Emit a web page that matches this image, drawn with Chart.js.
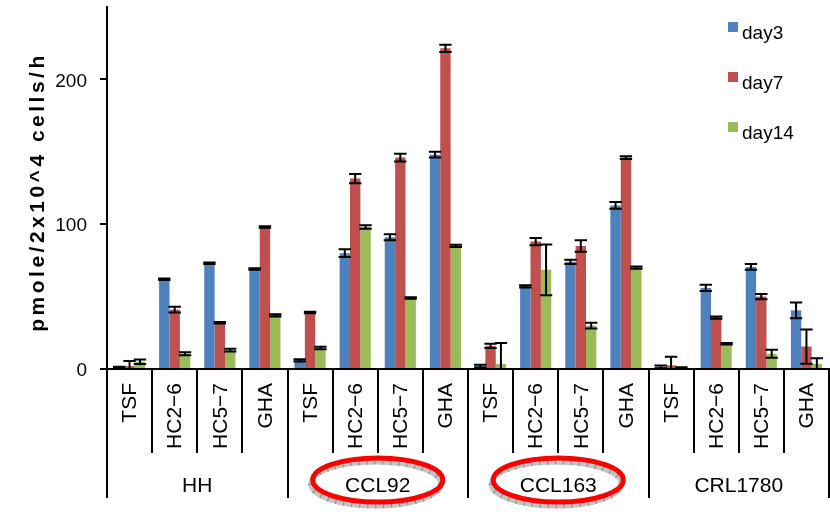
<!DOCTYPE html>
<html>
<head>
<meta charset="utf-8">
<script src="https://cdn.jsdelivr.net/npm/chart.js@4"></script>
<style>
  html, body { margin: 0; padding: 0; background: #fff; }
  #chart { display: block; }
</style>
</head>
<body>
<canvas id="chart" width="830" height="515"></canvas>
<script>
// cell lines and treatments (x axis, two rows)
const groups = ["HH", "CCL92", "CCL163", "CRL1780"];
const treatments = ["TSF", "HC2\u22126", "HC5\u22127", "GHA"];
const circledGroups = ["CCL92", "CCL163"];

// pmole/2x10^4 cells/h
const day3  = [1, 62, 73, 69,   6, 80, 91, 148,   2, 57, 74, 113,   1.5, 56, 70.5, 40.5];
const err3  = [0.5, 0.5, 0.5, 0.5,   0.8, 2.7, 2, 2,   1, 0.8, 1.5, 2.3,   1, 2.2, 2, 5.5];
const day7  = [2, 41, 32, 98,   39, 131.5, 146, 221.5,   16, 88, 85, 146,   2.5, 35.5, 50, 15.5];
const err7  = [3.5, 2, 0.5, 0.5,   0.5, 3.2, 2.7, 2.5,   1.5, 2.5, 4, 1,   6, 0.8, 1.8, 11.8];
const day14 = [5, 10.5, 13, 37,   14.5, 98, 49, 85,   3.5, 68.5, 30, 70,   0.7, 17.5, 10.5, 3.5];
const err14 = [1.5, 1, 1, 0.8,   0.8, 1.2, 0.5, 0.8,   14.5, 17.5, 2, 0.8,   0.5, 0.5, 2.8, 4];

const yTicks = [0, 100, 200];
const yMax = 250;
const yTitle = "pmole/2x10^4 cells/h";

const labels = [];
groups.forEach(() => treatments.forEach(t => labels.push(t)));

const FONT = "'Liberation Sans', Arial, sans-serif";

// error bars drawn from the dataset values through the y scale
const errorBars = {
    id: "errorBars",
    afterDatasetsDraw(chart) {
        const ctx = chart.ctx;
        const y = chart.scales.y;
        const area = chart.chartArea;
        ctx.save();
        ctx.beginPath();
        ctx.rect(area.left, area.top - 5, area.right - area.left, area.bottom - area.top + 5);
        ctx.clip();
        ctx.strokeStyle = "#000";
        ctx.lineWidth = 2;
        chart.data.datasets.forEach((ds, i) => {
            const meta = chart.getDatasetMeta(i);
            meta.data.forEach((bar, j) => {
                const v = ds.data[j], e = ds.errors[j];
                const x = bar.x;
                const hw = bar.width / 2 + 1;
                const top = y.getPixelForValue(v + e);
                const bot = y.getPixelForValue(v - e);
                ctx.beginPath();
                ctx.moveTo(x, top); ctx.lineTo(x, bot);
                ctx.moveTo(x - hw, top); ctx.lineTo(x + hw, top);
                ctx.moveTo(x - hw, bot); ctx.lineTo(x + hw, bot);
                ctx.stroke();
            });
        });
        ctx.restore();
    }
};

// two-row category axis, ellipses, legend and y title
const decorations = {
    id: "decorations",
    afterDraw(chart) {
        const ctx = chart.ctx;
        const x = chart.scales.x;
        const area = chart.chartArea;
        const n = labels.length;
        const half = (x.getPixelForValue(1) - x.getPixelForValue(0)) / 2;
        const edge = i => (i < n ? x.getPixelForValue(i) - half : x.getPixelForValue(n - 1) + half);

        ctx.save();
        ctx.strokeStyle = "#000";
        ctx.lineWidth = 2;
        for (let i = 0; i <= n; i++) {
            const px = Math.round(edge(i));
            ctx.beginPath();
            ctx.moveTo(px, area.bottom);
            ctx.lineTo(px, i % treatments.length === 0 ? 498 : 453);
            ctx.stroke();
        }

        // treatment labels, rotated
        ctx.fillStyle = "#000";
        ctx.font = "21px " + FONT;
        ctx.textAlign = "right";
        ctx.textBaseline = "middle";
        labels.forEach((lab, i) => {
            ctx.save();
            ctx.translate(x.getPixelForValue(i) + 1, 383);
            ctx.rotate(-Math.PI / 2);
            ctx.fillText(lab, 0, 0);
            ctx.restore();
        });

        // cell line labels, some circled
        groups.forEach((g, gi) => {
            const a = gi * treatments.length;
            const cx = (x.getPixelForValue(a + 1) + x.getPixelForValue(a + 2)) / 2;
            if (circledGroups.includes(g)) {
                const rx = 65, ry = 22, cy = 480;
                ctx.save();
                ctx.lineWidth = 5;
                ctx.strokeStyle = "#c4c4c4";
                ctx.beginPath();
                ctx.ellipse(cx - 2, cy + 4, rx, ry, 0, 0, Math.PI * 2);
                ctx.stroke();
                ctx.strokeStyle = "#8a8a8a";
                ctx.lineWidth = 5;
                ctx.setLineDash([1, 7]);
                ctx.beginPath();
                ctx.ellipse(cx - 2, cy + 4, rx, ry, 0, 0, Math.PI * 2);
                ctx.stroke();
                ctx.setLineDash([]);
                ctx.lineWidth = 5;
                ctx.strokeStyle = "#ff0000";
                ctx.beginPath();
                ctx.ellipse(cx, cy, rx, ry, 0, 0, Math.PI * 2);
                ctx.stroke();
                ctx.restore();
            }
            ctx.font = "21px " + FONT;
            ctx.textAlign = "center";
            ctx.textBaseline = "middle";
            ctx.fillStyle = "#000";
            ctx.fillText(g, cx, 486);
        });

        // legend
        ctx.font = "19px " + FONT;
        ctx.textAlign = "left";
        ctx.textBaseline = "alphabetic";
        chart.data.datasets.forEach((ds, i) => {
            const top = 22 + i * 50;
            ctx.fillStyle = ds.backgroundColor;
            ctx.fillRect(728, top, 10, 10);
            ctx.fillStyle = "#000";
            ctx.fillText(ds.label, 742, top + 16.5);
        });

        // y axis title
        ctx.save();
        ctx.translate(38, 192);
        ctx.rotate(-Math.PI / 2);
        ctx.font = "bold 21px " + FONT;
        if ("letterSpacing" in ctx) ctx.letterSpacing = "3.5px";
        ctx.textAlign = "center";
        ctx.textBaseline = "middle";
        ctx.fillText(yTitle, 0, 0);
        ctx.restore();

        ctx.restore();
    }
};

new Chart(document.getElementById("chart"), {
    type: "bar",
    data: {
        labels: labels,
        datasets: [
            { label: "day3",  data: day3,  errors: err3,  backgroundColor: "#4f81bd" },
            { label: "day7",  data: day7,  errors: err7,  backgroundColor: "#c0504d" },
            { label: "day14", data: day14, errors: err14, backgroundColor: "#9bbb59" }
        ]
    },
    options: {
        responsive: false,
        animation: false,
        devicePixelRatio: 1,
        layout: { padding: { top: 7, right: 1, left: 0, bottom: 0 } },
        datasets: { bar: { categoryPercentage: 0.69, barPercentage: 1.0, borderWidth: 0 } },
        plugins: { legend: { display: false }, tooltip: { enabled: false } },
        scales: {
            x: {
                grid: { display: false },
                ticks: { display: false },
                border: { display: true, color: "#000", width: 2 },
                afterFit(scale) {
                    scale.height = 146;
                    scale.paddingLeft = 0; scale.paddingRight = 0;
                }
            },
            y: {
                min: 0,
                max: yMax,
                afterBuildTicks(scale) { scale.ticks = yTicks.map(v => ({ value: v })); },
                ticks: {
                    color: "#000",
                    font: { family: FONT, size: 19 },
                    padding: 13,
                    labelOffset: 2
                },
                grid: { drawOnChartArea: false, color: "#000", lineWidth: 2, tickLength: 7 },
                border: { color: "#000", width: 2 },
                afterFit(scale) {
                    scale.width = 107;
                    scale.paddingTop = 0; scale.paddingBottom = 0;
                }
            }
        }
    },
    plugins: [errorBars, decorations]
});
</script>
</body>
</html>
